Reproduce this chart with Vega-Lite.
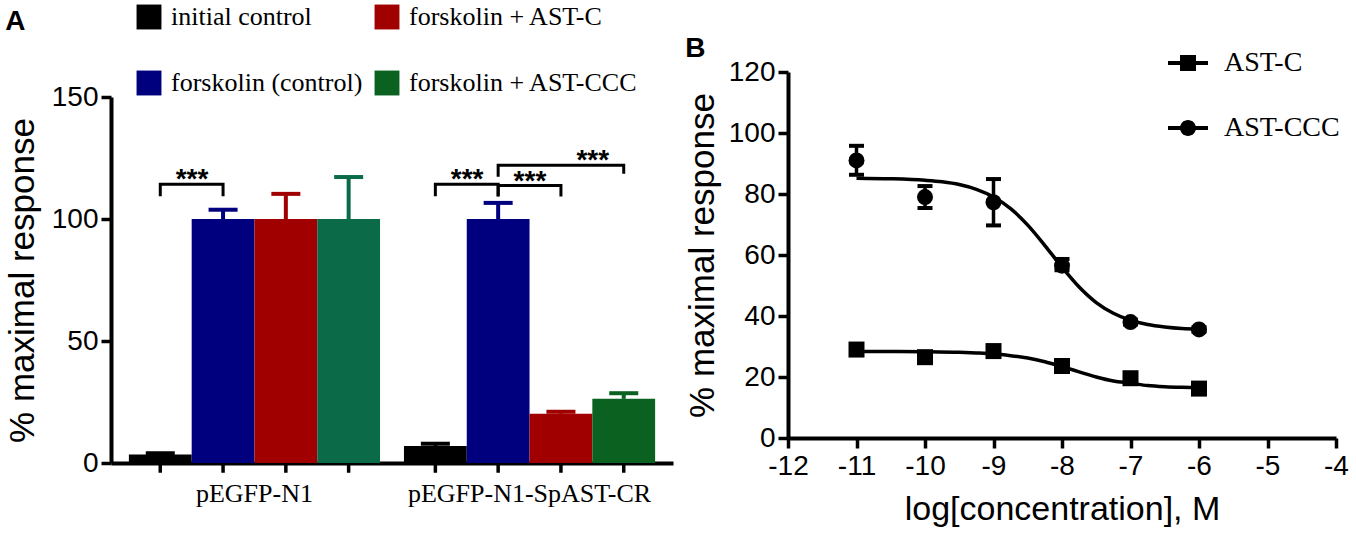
{
  "$schema": "https://vega.github.io/schema/vega-lite/v6.json",
  "background": "white",
  "padding": {"left": 5, "top": 4, "right": 2, "bottom": 2},
  "config": {"view": {"stroke": null}, "font": "Liberation Sans"},
  "align": "none",
  "spacing": 12,
  "datasets": {
    "bars": [
      {"group": "pEGFP-N1", "treatment": "initial control", "value": 3.5, "cap": 4.0},
      {"group": "pEGFP-N1", "treatment": "forskolin (control)", "value": 100, "cap": 103.8},
      {"group": "pEGFP-N1", "treatment": "forskolin + AST-C", "value": 100, "cap": 110.3},
      {"group": "pEGFP-N1", "treatment": "forskolin + AST-CCC", "value": 100, "cap": 117.2},
      {"group": "pEGFP-N1-SpAST-CR", "treatment": "initial control", "value": 7.0, "cap": 7.9},
      {"group": "pEGFP-N1-SpAST-CR", "treatment": "forskolin (control)", "value": 100, "cap": 106.6},
      {"group": "pEGFP-N1-SpAST-CR", "treatment": "forskolin + AST-C", "value": 20.2, "cap": 21.0},
      {"group": "pEGFP-N1-SpAST-CR", "treatment": "forskolin + AST-CCC", "value": 26.3, "cap": 28.6}
    ],
    "brackets": [
      {"id": "b1", "group": "pEGFP-N1", "treatment": "initial control", "y": 109.3, "order": 1},
      {"id": "b1", "group": "pEGFP-N1", "treatment": "initial control", "y": 114.2, "order": 2},
      {"id": "b1", "group": "pEGFP-N1", "treatment": "forskolin (control)", "y": 114.2, "order": 3},
      {"id": "b1", "group": "pEGFP-N1", "treatment": "forskolin (control)", "y": 109.3, "order": 4},
      {"id": "b2", "group": "pEGFP-N1-SpAST-CR", "treatment": "initial control", "y": 109.3, "order": 1},
      {"id": "b2", "group": "pEGFP-N1-SpAST-CR", "treatment": "initial control", "y": 114.2, "order": 2},
      {"id": "b2", "group": "pEGFP-N1-SpAST-CR", "treatment": "forskolin (control)", "y": 114.2, "order": 3},
      {"id": "b2", "group": "pEGFP-N1-SpAST-CR", "treatment": "forskolin (control)", "y": 109.3, "order": 4},
      {"id": "b3", "group": "pEGFP-N1-SpAST-CR", "treatment": "forskolin (control)", "y": 109.2, "order": 1},
      {"id": "b3", "group": "pEGFP-N1-SpAST-CR", "treatment": "forskolin (control)", "y": 113.7, "order": 2},
      {"id": "b3", "group": "pEGFP-N1-SpAST-CR", "treatment": "forskolin + AST-C", "y": 113.7, "order": 3},
      {"id": "b3", "group": "pEGFP-N1-SpAST-CR", "treatment": "forskolin + AST-C", "y": 109.2, "order": 4},
      {"id": "b4", "group": "pEGFP-N1-SpAST-CR", "treatment": "forskolin (control)", "y": 117.3, "order": 1},
      {"id": "b4", "group": "pEGFP-N1-SpAST-CR", "treatment": "forskolin (control)", "y": 122.0, "order": 2},
      {"id": "b4", "group": "pEGFP-N1-SpAST-CR", "treatment": "forskolin + AST-CCC", "y": 122.0, "order": 3},
      {"id": "b4", "group": "pEGFP-N1-SpAST-CR", "treatment": "forskolin + AST-CCC", "y": 118.5, "order": 4}
    ],
    "points": [
      {"series": "AST-C", "logc": -11, "resp": 29.0, "lo": 28.2, "hi": 29.8},
      {"series": "AST-C", "logc": -10, "resp": 26.5, "lo": 25.8, "hi": 27.2},
      {"series": "AST-C", "logc": -9, "resp": 28.5, "lo": 27.7, "hi": 29.3},
      {"series": "AST-C", "logc": -8, "resp": 23.6, "lo": 22.6, "hi": 24.6},
      {"series": "AST-C", "logc": -7, "resp": 19.6, "lo": 18.8, "hi": 20.4},
      {"series": "AST-C", "logc": -6, "resp": 16.2, "lo": 15.4, "hi": 17.0},
      {"series": "AST-CCC", "logc": -11, "resp": 91.0, "lo": 86.3, "hi": 95.8},
      {"series": "AST-CCC", "logc": -10, "resp": 79.0, "lo": 75.4, "hi": 82.6},
      {"series": "AST-CCC", "logc": -9, "resp": 77.3, "lo": 69.7, "hi": 84.9},
      {"series": "AST-CCC", "logc": -8, "resp": 56.5, "lo": 55.0, "hi": 58.7},
      {"series": "AST-CCC", "logc": -7, "resp": 38.0, "lo": 37.2, "hi": 38.8},
      {"series": "AST-CCC", "logc": -6, "resp": 35.6, "lo": 34.9, "hi": 36.3}
    ],
    "curve": [
      {"series": "AST-CCC", "logc": -11, "resp": 85.2},
      {"series": "AST-CCC", "logc": -10.5, "resp": 85.0},
      {"series": "AST-CCC", "logc": -10, "resp": 84.5},
      {"series": "AST-CCC", "logc": -9.75, "resp": 84.0},
      {"series": "AST-CCC", "logc": -9.5, "resp": 83.1},
      {"series": "AST-CCC", "logc": -9.25, "resp": 81.5},
      {"series": "AST-CCC", "logc": -9, "resp": 79.0},
      {"series": "AST-CCC", "logc": -8.75, "resp": 75.2},
      {"series": "AST-CCC", "logc": -8.5, "resp": 69.8},
      {"series": "AST-CCC", "logc": -8.25, "resp": 63.1},
      {"series": "AST-CCC", "logc": -8, "resp": 56.0},
      {"series": "AST-CCC", "logc": -7.75, "resp": 49.5},
      {"series": "AST-CCC", "logc": -7.5, "resp": 44.4},
      {"series": "AST-CCC", "logc": -7.25, "resp": 40.9},
      {"series": "AST-CCC", "logc": -7, "resp": 38.6},
      {"series": "AST-CCC", "logc": -6.75, "resp": 37.2},
      {"series": "AST-CCC", "logc": -6.5, "resp": 36.4},
      {"series": "AST-CCC", "logc": -6.25, "resp": 35.9},
      {"series": "AST-CCC", "logc": -6, "resp": 35.7},
      {"series": "AST-C", "logc": -11, "resp": 28.4},
      {"series": "AST-C", "logc": -10.5, "resp": 28.4},
      {"series": "AST-C", "logc": -10, "resp": 28.3},
      {"series": "AST-C", "logc": -9.5, "resp": 28.1},
      {"series": "AST-C", "logc": -9.25, "resp": 27.9},
      {"series": "AST-C", "logc": -9, "resp": 27.6},
      {"series": "AST-C", "logc": -8.75, "resp": 27.0},
      {"series": "AST-C", "logc": -8.5, "resp": 26.2},
      {"series": "AST-C", "logc": -8.25, "resp": 25.0},
      {"series": "AST-C", "logc": -8, "resp": 23.4},
      {"series": "AST-C", "logc": -7.75, "resp": 21.7},
      {"series": "AST-C", "logc": -7.5, "resp": 20.0},
      {"series": "AST-C", "logc": -7.25, "resp": 18.7},
      {"series": "AST-C", "logc": -7, "resp": 18.0},
      {"series": "AST-C", "logc": -6.75, "resp": 17.2},
      {"series": "AST-C", "logc": -6.5, "resp": 16.8},
      {"series": "AST-C", "logc": -6.25, "resp": 16.6},
      {"series": "AST-C", "logc": -6, "resp": 16.5}
    ]
  },
  "hconcat": [
    {
      "width": 562,
      "height": 366,
      "title": {"text": "A", "anchor": "start", "frame": "bounds", "offset": 47, "font": "Liberation Sans", "fontSize": 28, "fontWeight": "bold", "color": "black"},
      "layer": [
        {
          "data": {"name": "bars"},
          "mark": {"type": "bar"},
          "encoding": {
            "x": {"field": "group", "type": "nominal", "sort": ["pEGFP-N1", "pEGFP-N1-SpAST-CR"],
              "scale": {"paddingInner": 0.087, "paddingOuter": 0.065},
              "axis": {"title": null, "labelAngle": 0, "ticks": false, "labelFont": "Liberation Serif", "labelFontSize": 26, "labelColor": "black", "labelPadding": 17, "domainColor": "black", "domainWidth": 4, "labelLimit": 400}},
            "xOffset": {"field": "treatment", "type": "nominal", "sort": ["initial control", "forskolin (control)", "forskolin + AST-C", "forskolin + AST-CCC"], "scale": {"paddingInner": 0, "paddingOuter": 0}},
            "y": {"field": "value", "type": "quantitative", "scale": {"domain": [0, 150], "nice": false},
              "axis": {"values": [0, 50, 100, 150], "title": "% maximal response", "grid": false, "domainColor": "black", "domainWidth": 4, "tickColor": "black", "tickWidth": 3.5, "tickSize": 10, "labelFontSize": 28, "labelColor": "black", "labelPadding": 3, "titleFontSize": 35, "titleFontWeight": "normal", "titleColor": "black", "titlePadding": 11}},
            "color": {"condition": {"test": "datum.group === 'pEGFP-N1' && datum.treatment === 'forskolin + AST-CCC'", "value": "#0b6b48"},
              "field": "treatment", "type": "nominal",
              "scale": {"domain": ["initial control", "forskolin (control)", "forskolin + AST-C", "forskolin + AST-CCC"], "range": ["#000000", "#00007f", "#a00000", "#0b6120"]},
              "legend": {"title": null, "orient": "none", "legendX": 25, "legendY": -93, "columns": 2, "symbolType": "square", "symbolSize": 620, "symbolStrokeWidth": 0, "symbolOpacity": 1, "labelFont": "Liberation Serif", "labelFontSize": 26, "labelColor": "black", "labelOffset": 9, "rowPadding": 40, "columnPadding": 11, "labelLimit": 400}}
          }
        },
        {
          "data": {"name": "bars"},
          "mark": {"type": "rule", "strokeWidth": 4},
          "encoding": {
            "x": {"field": "group", "type": "nominal", "sort": ["pEGFP-N1", "pEGFP-N1-SpAST-CR"]},
            "xOffset": {"field": "treatment", "type": "nominal", "sort": ["initial control", "forskolin (control)", "forskolin + AST-C", "forskolin + AST-CCC"]},
            "y": {"field": "value", "type": "quantitative"},
            "y2": {"field": "cap"},
            "color": {"condition": {"test": "datum.group === 'pEGFP-N1' && datum.treatment === 'forskolin + AST-CCC'", "value": "#0b6b48"}, "field": "treatment", "type": "nominal"}
          }
        },
        {
          "data": {"name": "bars"},
          "mark": {"type": "tick", "thickness": 4, "size": 29, "opacity": 1},
          "encoding": {
            "x": {"field": "group", "type": "nominal", "sort": ["pEGFP-N1", "pEGFP-N1-SpAST-CR"]},
            "xOffset": {"field": "treatment", "type": "nominal", "sort": ["initial control", "forskolin (control)", "forskolin + AST-C", "forskolin + AST-CCC"]},
            "y": {"field": "cap", "type": "quantitative"},
            "color": {"condition": {"test": "datum.group === 'pEGFP-N1' && datum.treatment === 'forskolin + AST-CCC'", "value": "#0b6b48"}, "field": "treatment", "type": "nominal"}
          }
        },
        {
          "data": {"name": "bars"},
          "mark": {"type": "rule", "strokeWidth": 3.5, "color": "black"},
          "encoding": {
            "x": {"field": "group", "type": "nominal", "sort": ["pEGFP-N1", "pEGFP-N1-SpAST-CR"]},
            "xOffset": {"field": "treatment", "type": "nominal", "sort": ["initial control", "forskolin (control)", "forskolin + AST-C", "forskolin + AST-CCC"]},
            "y": {"datum": 0, "type": "quantitative"},
            "y2": {"datum": -4}
          }
        },
        {
          "data": {"name": "brackets"},
          "mark": {"type": "line", "color": "black", "strokeWidth": 3},
          "encoding": {
            "x": {"field": "group", "type": "nominal", "sort": ["pEGFP-N1", "pEGFP-N1-SpAST-CR"]},
            "xOffset": {"field": "treatment", "type": "nominal", "sort": ["initial control", "forskolin (control)", "forskolin + AST-C", "forskolin + AST-CCC"]},
            "y": {"field": "y", "type": "quantitative"},
            "detail": {"field": "id", "type": "nominal"},
            "order": {"field": "order", "type": "quantitative"}
          }
        },
        {
          "data": {"name": "brackets"},
          "transform": [{"filter": "datum.order === 3"}],
          "mark": {"type": "text", "text": "***", "font": "Liberation Sans", "fontSize": 28, "fontWeight": "bold", "dx": -31, "dy": 4, "baseline": "alphabetic", "align": "center", "color": "black"},
          "encoding": {
            "x": {"field": "group", "type": "nominal", "sort": ["pEGFP-N1", "pEGFP-N1-SpAST-CR"]},
            "xOffset": {"field": "treatment", "type": "nominal", "sort": ["initial control", "forskolin (control)", "forskolin + AST-C", "forskolin + AST-CCC"]},
            "y": {"field": "y", "type": "quantitative"}
          }
        }
      ]
    },
    {
      "width": 548,
      "height": 341,
      "title": {"text": "B", "anchor": "start", "frame": "bounds", "offset": -20, "font": "Liberation Sans", "fontSize": 28, "fontWeight": "bold", "color": "black"},
      "layer": [
        {
          "data": {"name": "curve"},
          "mark": {"type": "line", "color": "black", "strokeWidth": 3.5, "interpolate": "monotone"},
          "encoding": {
            "x": {"field": "logc", "type": "quantitative", "scale": {"domain": [-12, -4], "nice": false},
              "axis": {"values": [-12, -11, -10, -9, -8, -7, -6, -5, -4], "labelExpr": "'' + datum.value", "title": "log[concentration], M", "grid": false, "domainColor": "black", "domainWidth": 4, "tickColor": "black", "tickWidth": 3.5, "tickSize": 10, "labelFontSize": 28, "labelColor": "black", "labelPadding": 4, "labelFlush": false, "labelOverlap": false, "titleFontSize": 34, "titleFontWeight": "normal", "titleColor": "black", "titlePadding": 12}},
            "y": {"field": "resp", "type": "quantitative", "scale": {"domain": [0, 120], "nice": false, "range": [341, -25]},
              "axis": {"values": [0, 20, 40, 60, 80, 100, 120], "title": "% maximal response", "grid": false, "domainColor": "black", "domainWidth": 4, "tickColor": "black", "tickWidth": 3.5, "tickSize": 10, "labelFontSize": 28, "labelColor": "black", "labelPadding": 3, "titleFontSize": 35, "titleFontWeight": "normal", "titleColor": "black", "titlePadding": 8}},
            "detail": {"field": "series", "type": "nominal"}
          }
        },
        {
          "data": {"name": "points"},
          "mark": {"type": "rule", "strokeWidth": 3.5, "color": "black"},
          "encoding": {
            "x": {"field": "logc", "type": "quantitative"},
            "y": {"field": "lo", "type": "quantitative"},
            "y2": {"field": "hi"}
          }
        },
        {
          "data": {"name": "points"},
          "transform": [{"fold": ["lo", "hi"], "as": ["end", "yv"]}],
          "mark": {"type": "tick", "orient": "horizontal", "thickness": 4, "size": 15, "color": "black", "opacity": 1},
          "encoding": {
            "x": {"field": "logc", "type": "quantitative"},
            "y": {"field": "yv", "type": "quantitative"}
          }
        },
        {
          "data": {"name": "points"},
          "mark": {"type": "point", "filled": true, "opacity": 1, "color": "black", "size": 256},
          "encoding": {
            "x": {"field": "logc", "type": "quantitative"},
            "y": {"field": "resp", "type": "quantitative"},
            "shape": {"field": "series", "type": "nominal", "scale": {"domain": ["AST-C", "AST-CCC"], "range": ["square", "circle"]}, "legend": null}
          }
        },
        {
          "data": {"name": "points"},
          "mark": {"type": "point", "filled": true, "opacity": 0, "color": "black"},
          "encoding": {
            "x": {"field": "logc", "type": "quantitative"},
            "y": {"field": "resp", "type": "quantitative"},
            "shape": {"field": "series", "type": "nominal",
              "scale": {"domain": ["AST-C", "AST-CCC"], "range": ["M-1,-0.1H1V0.1H-1Z M-0.4,-0.4H0.4V0.4H-0.4Z", "M-1,-0.1H1V0.1H-1Z M-0.4,0A0.4,0.4 0 1,1 0.4,0A0.4,0.4 0 1,1 -0.4,0Z"]},
              "legend": {"title": null, "orient": "none", "legendX": 380, "legendY": -54, "symbolSize": 1600, "symbolOpacity": 1, "symbolFillColor": "black", "symbolStrokeWidth": 0, "labelFont": "Liberation Serif", "labelFontSize": 28, "labelColor": "black", "labelOffset": 16, "rowPadding": 31, "labelLimit": 300}}
          }
        }
      ],
      "resolve": {"scale": {"shape": "independent"}}
    }
  ]
}
